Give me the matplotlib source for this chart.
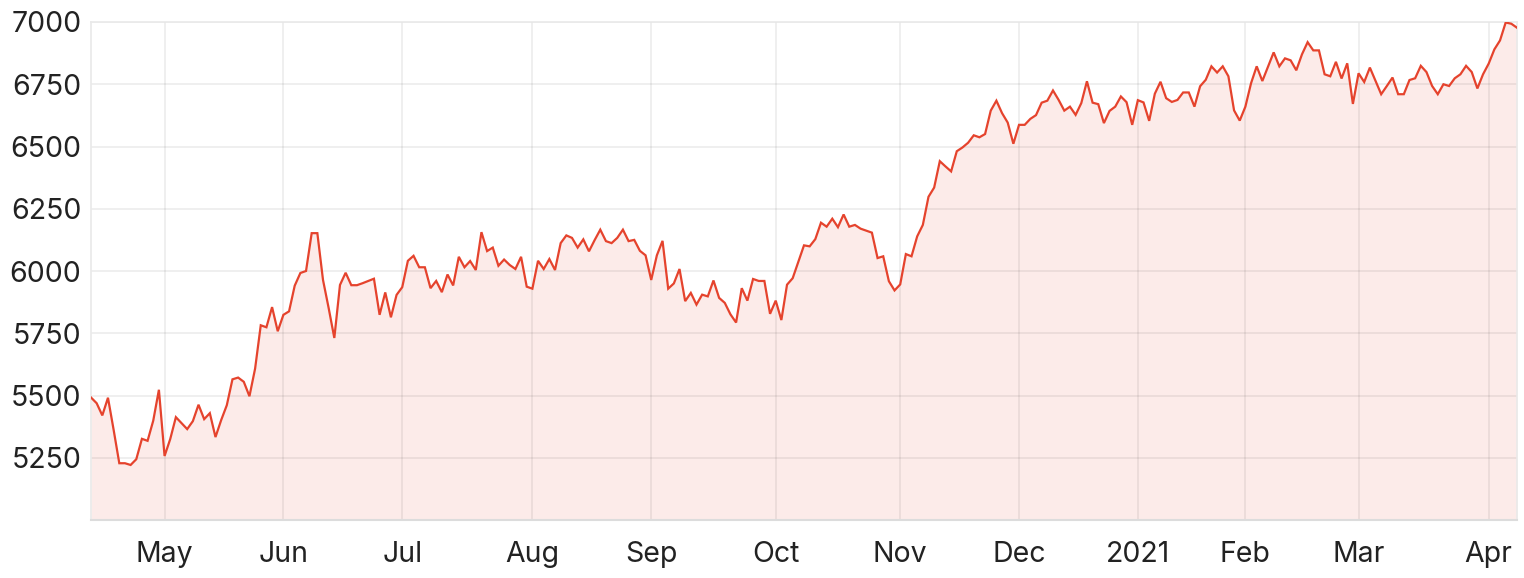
import numpy as np
import matplotlib
matplotlib.use("Agg")
import matplotlib.pyplot as plt

# daily closes, grouped by month (first group starts mid-April 2020)
apr20 = [5492, 5469, 5420, 5491, 5362, 5228, 5228, 5221, 5244, 5326, 5318, 5399, 5523]
may20 = [5257, 5325, 5413, 5389, 5365, 5397, 5463, 5405, 5429, 5333, 5401, 5461,
         5565, 5572, 5555, 5497, 5608, 5782, 5774, 5855, 5758]
jun20 = [5824, 5838, 5941, 5992, 6000, 6152, 6152, 5964, 5851, 5731, 5944, 5993,
         5943, 5943, 5951, 5960, 5969, 5824, 5914, 5814, 5904]
jul20 = [5935, 6041, 6061, 6015, 6015, 5931, 5960, 5915, 5986, 5942, 6057, 6015,
         6040, 6004, 6156, 6080, 6094, 6021, 6046, 6024, 6008, 6057, 5937]
aug20 = [5929, 6041, 6008, 6048, 6004, 6112, 6143, 6133, 6094, 6127, 6079, 6124,
         6166, 6120, 6112, 6133, 6166, 6120, 6125, 6081, 6063]
sep20 = [5964, 6063, 6121, 5929, 5950, 6008, 5879, 5912, 5865, 5905, 5898, 5962,
         5892, 5872, 5826, 5793, 5931, 5881, 5968, 5960, 5960, 5828]
oct20 = [5881, 5803, 5945, 5971, 6037, 6103, 6099, 6128, 6194, 6178, 6210, 6176,
         6227, 6178, 6185, 6170, 6162, 6154, 6052, 6059, 5959, 5922]
nov20 = [5946, 6068, 6059, 6139, 6185, 6298, 6335, 6441, 6420, 6400, 6481, 6496,
         6515, 6545, 6537, 6550, 6644, 6684, 6634, 6596, 6511]
dec20 = [6587, 6587, 6611, 6626, 6676, 6684, 6725, 6687, 6644, 6660, 6627, 6674,
         6762, 6676, 6670, 6594, 6643, 6660, 6701, 6678, 6587]
jan21 = [6686, 6677, 6603, 6712, 6760, 6694, 6679, 6687, 6717, 6717, 6660, 6742,
         6768, 6822, 6797, 6822, 6782, 6645, 6604]
feb21 = [6660, 6754, 6822, 6763, 6820, 6878, 6822, 6854, 6846, 6806, 6870, 6919,
         6886, 6886, 6790, 6782, 6840, 6773, 6834, 6671]
mar21 = [6794, 6759, 6817, 6763, 6710, 6743, 6777, 6710, 6710, 6767, 6774, 6824,
         6799, 6743, 6710, 6750, 6743, 6774, 6790, 6824, 6799, 6733, 6790]
apr21 = [6833, 6890, 6926, 6998, 6993, 6977]

month_data = [apr20, may20, jun20, jul20, aug20, sep20, oct20, nov20,
              dec20, jan21, feb21, mar21, apr21]
month_labels = ["May", "Jun", "Jul", "Aug", "Sep", "Oct", "Nov", "Dec",
                "2021", "Feb", "Mar", "Apr"]
y_ticks = [5250, 5500, 5750, 6000, 6250, 6500, 6750, 7000]

values = np.concatenate(month_data)
x = np.arange(len(values))
month_starts = np.cumsum([len(m) for m in month_data])[:-1]

line_color = "#e5432d"
text_color = "#222222"
grid_color = "#e9e9e9"

fig = plt.figure(figsize=(15.24, 5.78), dpi=100)
ax = fig.add_axes([91 / 1524, 1 - 520 / 578, 1426 / 1524, 498 / 578])

ymin = 5000
ax.fill_between(x, values, ymin, color=line_color, alpha=0.1, linewidth=0, zorder=1)
ax.plot(x, values, color=line_color, lw=1.6, zorder=3, solid_joinstyle="miter")

ax.set_xlim(0, len(values) - 1)
ax.set_ylim(ymin, 7000)
ax.set_yticks(y_ticks)
ax.set_xticks(month_starts)
ax.set_xticklabels(month_labels)

ax.grid(True, color="#000000", alpha=0.075, lw=1.2)
ax.tick_params(length=0, labelsize=20.5, colors=text_color, labelfontfamily="Inter")
ax.tick_params(axis="x", pad=15)
ax.tick_params(axis="y", pad=7)

for side in ["left", "right", "top"]:
    ax.spines[side].set_color(grid_color)
    ax.spines[side].set_linewidth(1.2)
ax.spines["bottom"].set_color("#dcdcdc")
ax.spines["bottom"].set_linewidth(1.5)

fig.savefig("out.png", dpi=100)
